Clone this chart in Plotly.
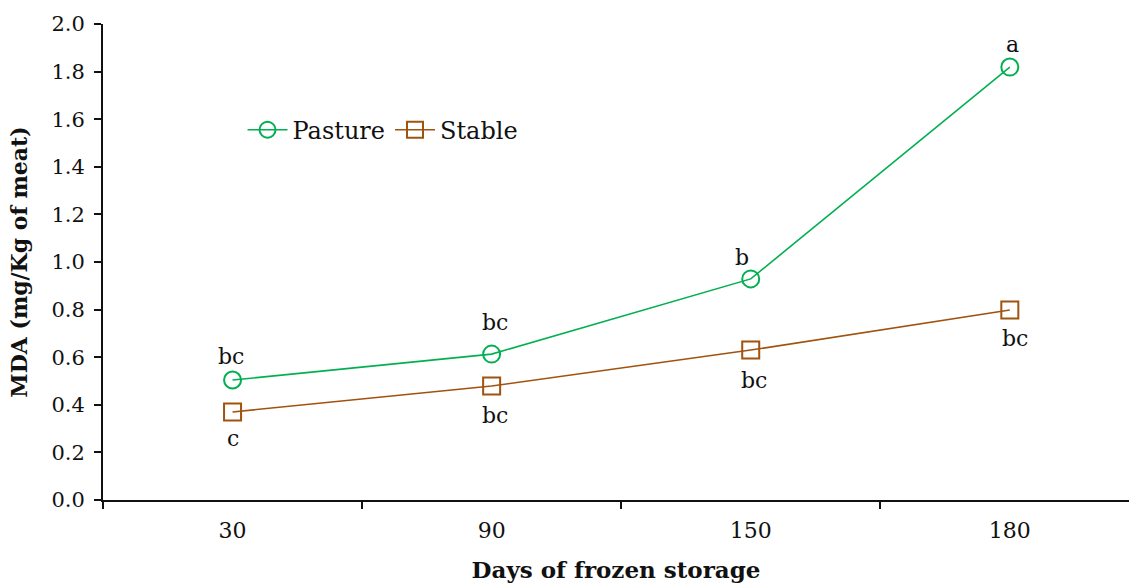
import plotly.graph_objects as go

days = ["30", "90", "150", "180"]
pasture = [0.504, 0.613, 0.929, 1.819]
stable = [0.370, 0.479, 0.630, 0.798]
pasture_labels = ["bc", "bc", "b", "a"]
stable_labels = ["c", "bc", "bc", "bc"]
y_ticks = [0.0, 0.2, 0.4, 0.6, 0.8, 1.0, 1.2, 1.4, 1.6, 1.8, 2.0]

GREEN = "#00B050"
BROWN = "#A0520F"
FONT = "DejaVu Serif"
TXT = "#111111"

fig = go.Figure()
fig.add_trace(go.Scatter(
    x=days, y=pasture, name="Pasture", mode="lines+markers",
    line=dict(color=GREEN, width=1.6),
    marker=dict(symbol="circle-open", size=17, color=GREEN, line=dict(width=2)),
))
fig.add_trace(go.Scatter(
    x=days, y=stable, name="Stable", mode="lines+markers",
    line=dict(color=BROWN, width=1.6),
    marker=dict(symbol="square-open", size=17, color=BROWN, line=dict(width=2)),
))

p_shift = [24, 32, 21, 23]
p_xshift = [-2, 3, -9, 3]
for i, (v, t, s, xs) in enumerate(zip(pasture, pasture_labels, p_shift, p_xshift)):
    fig.add_annotation(x=i, y=v, text=t, showarrow=False, yshift=s, xshift=xs,
                       font=dict(family=FONT, size=22, color=TXT))
s_shift = [-27, -29, -30, -28]
s_xshift = [0, 3, 3, 5]
for i, (v, t, s, xs) in enumerate(zip(stable, stable_labels, s_shift, s_xshift)):
    fig.add_annotation(x=i, y=v, text=t, showarrow=False, yshift=s, xshift=xs,
                       font=dict(family=FONT, size=22, color=TXT))

fig.update_layout(
    width=1129, height=583,
    margin=dict(l=103, r=0, t=24, b=83),
    paper_bgcolor="white", plot_bgcolor="white",
    font=dict(family=FONT, size=21, color=TXT),
    showlegend=True,
    legend=dict(orientation="h", x=0.136, y=0.777, xanchor="left", yanchor="middle",
                font=dict(family=FONT, size=24, color=TXT), bgcolor="rgba(0,0,0,0)",
                itemwidth=40),
    xaxis=dict(
        type="category", range=[-0.5, 3.46], tickson="boundaries",
        showline=True, linecolor=TXT, linewidth=2,
        ticks="outside", ticklen=7, tickwidth=1.5, tickcolor=TXT,
        ticklabelstandoff=10,
        showgrid=False, zeroline=False,
        title=dict(text="<b>Days of frozen storage</b>", standoff=19,
                   font=dict(family=FONT, size=23, color=TXT)),
        tickfont=dict(family=FONT, size=22, color=TXT),
    ),
    yaxis=dict(
        range=[0, 2.0], tickvals=y_ticks, ticktext=[f"{v:.1f}" for v in y_ticks],
        showline=True, linecolor=TXT, linewidth=2,
        ticks="outside", ticklen=7, tickwidth=1.5, tickcolor=TXT,
        ticklabelstandoff=5,
        showgrid=False, zeroline=False,
        title=dict(text="<b>MDA (mg/Kg of meat)</b>", standoff=18,
                   font=dict(family=FONT, size=22, color=TXT)),
        tickfont=dict(family=FONT, size=21, color=TXT),
    ),
)

fig.write_html("out.html")
